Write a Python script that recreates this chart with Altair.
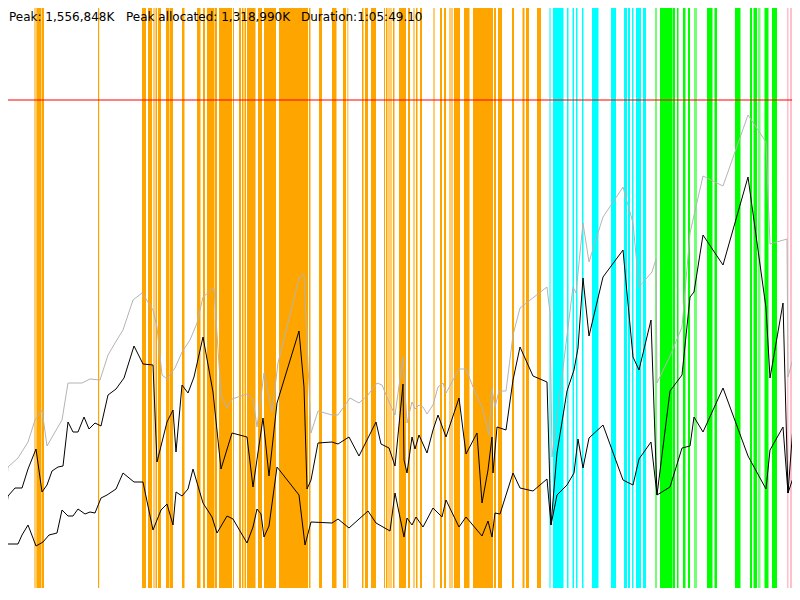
import altair as alt
import pandas as pd

# ---- summary texts ----
summary = ["Peak: 1,556,848K", "Peak allocated: 1,318,990K", "Duration:1:05:49.10"]

# ---- heap limit (red line) ----
heap_limit = 500

# ---- GC event bands: (start, end, kind, shade) ----
bands = [
    (0, 2, "young", "solid"), (6, 7.5, "young", "solid"),
    (34, 36.5, "young", "light"), (36.5, 41, "young", "solid"), (41.5, 44, "young", "solid"),
    (98, 99.2, "young", "solid"),
    (142, 146, "young", "solid"), (148, 152, "young", "solid"), (153, 155, "young", "light"),
    (155.5, 157, "young", "solid"), (158, 161, "young", "solid"),
    (166, 169.5, "young", "solid"), (170, 173, "young", "solid"),
    (182, 184.5, "young", "solid"), (197, 200.5, "young", "solid"), (203, 205, "young", "solid"),
    (207, 214.5, "young", "solid"), (215, 217, "young", "solid"), (219, 232, "young", "solid"),
    (233, 234, "young", "solid"), (239, 241, "young", "solid"), (242, 243.5, "young", "solid"),
    (244.5, 246, "young", "solid"), (247, 255.5, "young", "solid"), (258, 262, "young", "solid"),
    (264, 276, "young", "solid"), (279, 300, "young", "solid"), (300, 308, "young", "solid"),
    (309, 310.5, "young", "solid"), (319, 322, "young", "solid"), (332, 336.5, "young", "solid"),
    (343, 346, "young", "solid"), (347, 348.5, "young", "light"), (362, 363.5, "young", "solid"),
    (365, 368, "young", "solid"), (371, 376, "young", "solid"), (384, 385, "young", "solid"),
    (386, 387.5, "young", "solid"), (388, 392, "young", "light"), (393, 394.5, "young", "solid"),
    (399, 406, "young", "solid"), (408, 410, "young", "solid"), (413, 415, "young", "light"),
    (416, 417.5, "young", "solid"), (420, 422, "young", "solid"), (433, 435, "young", "light"),
    (440, 442, "young", "solid"), (444, 446, "young", "solid"), (449, 453, "young", "light"),
    (454, 456, "young", "solid"), (456, 460, "young", "solid"), (464, 469.5, "young", "solid"),
    (473, 480, "young", "solid"), (480, 487, "young", "solid"), (487, 493, "young", "solid"),
    (494, 496, "young", "solid"), (498, 502, "young", "solid"), (512, 514, "young", "solid"),
    (522.5, 524.5, "young", "solid"), (526, 529, "young", "solid"), (537, 541, "young", "solid"),
    (549, 551, "concurrent", "light"), (553, 563.5, "concurrent", "solid"),
    (567, 568.5, "concurrent", "solid"), (572.5, 574, "concurrent", "solid"),
    (576, 577.5, "concurrent", "solid"), (582, 583.5, "concurrent", "solid"),
    (592, 598.5, "concurrent", "solid"), (611, 616, "concurrent", "solid"),
    (624, 627, "concurrent", "solid"), (628, 630, "concurrent", "solid"),
    (632, 633.5, "concurrent", "solid"), (636, 641, "concurrent", "solid"),
    (643, 646, "concurrent", "solid"),
    (655, 657, "mixed", "light"), (660, 672, "mixed", "solid"), (672.5, 675, "mixed", "solid"),
    (677, 678.5, "mixed", "solid"), (683, 685.5, "mixed", "solid"), (688, 690, "mixed", "solid"),
    (694, 697, "mixed", "light"), (707, 712.5, "mixed", "solid"), (714.5, 717, "mixed", "solid"),
    (735, 740.5, "mixed", "solid"), (750, 752, "mixed", "solid"), (753.5, 757, "mixed", "solid"),
    (758, 760.5, "mixed", "light"), (764.5, 768.5, "mixed", "solid"), (772, 777, "mixed", "solid"),
    (787, 788.5, "other", "solid"), (790, 792.5, "other", "solid"),
    (794, 795.5, "other", "solid"), (798, 800, "other", "solid"),
]
band_kinds = ["young", "concurrent", "mixed", "other"]
band_colors = ["#FFA500", "#00FFFF", "#00FF00", "#FFC0CB"]

# ---- memory series: (time, level) ----
peak_series = [
    (1, 52), (8, 133), (18, 142), (28, 158), (35, 180), (42, 190), (47, 154), (55, 168),
    (62, 180), (68, 217), (82, 217), (90, 221), (100, 220), (108, 245), (115, 257), (123, 270),
    (133, 300), (142, 307), (148, 298), (153, 290), (157, 273), (162, 225), (167, 221),
    (175, 232), (182, 248), (190, 260), (197, 277), (203, 303), (214, 312), (221, 205),
    (227, 192), (232, 201), (247, 206), (253, 201), (257, 173), (264, 227), (272, 188),
    (278, 237), (299, 322), (304, 326), (311, 167), (318, 189), (332, 185), (338, 185),
    (350, 202), (359, 197), (368, 205), (377, 217), (382, 215), (389, 198), (395, 185),
    (403, 243), (407, 177), (412, 198), (415, 191), (419, 195), (423, 193), (427, 186),
    (433, 195), (438, 213), (443, 217), (446, 207), (452, 218), (459, 231), (466, 231),
    (475, 208), (482, 193), (489, 165), (492, 211), (495, 193), (499, 209), (506, 209),
    (513, 265), (520, 292), (534, 303), (547, 313), (550, 287), (552, 143), (573, 313),
    (576, 307), (583, 377), (589, 338), (603, 383), (623, 413), (633, 377), (639, 313),
    (652, 328), (656, 341), (657, 217), (670, 244), (682, 273), (690, 367), (703, 424),
    (723, 414), (748, 485), (766, 458), (770, 356), (787, 361), (788, 223), (796, 253),
]
allocated_series = [
    (1, 45), (8, 104), (15, 112), (22, 112), (28, 131), (36, 151), (42, 108), (47, 115),
    (52, 129), (58, 133), (63, 134), (68, 178), (73, 168), (78, 168), (84, 183), (89, 171),
    (95, 177), (101, 174), (108, 205), (116, 211), (124, 222), (134, 254), (143, 236),
    (153, 235), (157, 138), (167, 178), (173, 190), (176, 148), (182, 215), (188, 207),
    (194, 223), (203, 263), (213, 208), (221, 131), (232, 167), (247, 163), (253, 113),
    (263, 182), (269, 124), (277, 197), (299, 269), (304, 213), (307, 111), (311, 120),
    (318, 157), (332, 158), (338, 156), (349, 163), (359, 144), (376, 178), (381, 156),
    (389, 152), (395, 134), (403, 216), (404, 140), (407, 127), (412, 163), (415, 151),
    (419, 165), (427, 147), (433, 170), (438, 185), (446, 163), (459, 202), (466, 146),
    (477, 167), (482, 97), (488, 130), (492, 163), (493, 127), (497, 173), (506, 170),
    (513, 220), (520, 253), (533, 224), (547, 218), (551, 75), (557, 147), (567, 209),
    (574, 230), (578, 252), (583, 322), (589, 264), (603, 323), (623, 350), (633, 243),
    (639, 230), (651, 280), (657, 105), (670, 209), (682, 225), (690, 303), (694, 308),
    (703, 365), (723, 335), (748, 423), (766, 292), (770, 222), (783, 297), (788, 107),
    (796, 214),
]
live_series = [
    (1, 41), (7, 56), (18, 56), (22, 65), (28, 75), (36, 54), (43, 58), (49, 65), (57, 67),
    (62, 90), (68, 84), (73, 84), (78, 91), (85, 86), (90, 88), (95, 87), (101, 102),
    (107, 105), (116, 111), (123, 127), (134, 118), (143, 118), (153, 70), (161, 90),
    (167, 96), (173, 75), (176, 108), (182, 104), (188, 111), (193, 131), (203, 97),
    (212, 83), (217, 67), (227, 84), (233, 81), (247, 57), (253, 73), (257, 91), (261, 86),
    (264, 63), (269, 74), (277, 133), (299, 105), (305, 55), (311, 78), (332, 77), (338, 81),
    (349, 72), (368, 89), (376, 77), (390, 69), (395, 107), (404, 63), (407, 82), (412, 75),
    (416, 83), (423, 73), (433, 92), (442, 83), (446, 100), (459, 73), (466, 83), (482, 64),
    (488, 79), (492, 63), (495, 87), (500, 86), (513, 127), (520, 112), (533, 109),
    (547, 121), (551, 75), (557, 105), (567, 115), (574, 127), (578, 161), (583, 132),
    (589, 162), (603, 175), (623, 120), (633, 115), (639, 141), (651, 158), (657, 105),
    (670, 113), (682, 152), (690, 154), (694, 183), (703, 168), (723, 212), (748, 144),
    (766, 111), (770, 150), (783, 173), (788, 107), (796, 131),
]

# the page has an 8px margin: show the window of the timeline that lands inside it
x_scale = alt.Scale(domain=[8, 792], nice=False, zero=False)
y_scale = alt.Scale(domain=[12, 592], nice=False, zero=False)

df_bands = pd.DataFrame(bands, columns=["start", "end", "kind", "shade"])
band_layer = alt.Chart(df_bands).mark_rect(clip=True).encode(
    x=alt.X("start:Q", scale=x_scale, axis=None),
    x2="end:Q",
    color=alt.Color("kind:N", scale=alt.Scale(domain=band_kinds, range=band_colors), legend=None),
    opacity=alt.Opacity("shade:N", scale=alt.Scale(domain=["solid", "light"], range=[1.0, 0.55]), legend=None),
)

limit_layer = alt.Chart(pd.DataFrame({"limit": [heap_limit]})).mark_rule(
    color="#ff0000", opacity=0.5, strokeWidth=2
).encode(y=alt.Y("limit:Q", scale=y_scale, axis=None))


def series_layer(pairs, color):
    df = pd.DataFrame(pairs, columns=["t", "mem"])
    return alt.Chart(df).mark_line(color=color, strokeWidth=1, clip=True).encode(
        x=alt.X("t:Q", scale=x_scale, axis=None),
        y=alt.Y("mem:Q", scale=y_scale, axis=None),
    )


peak_layer = series_layer(peak_series, "#b4b4b4")
alloc_layer = series_layer(allocated_series, "#000000")
live_layer = series_layer(live_series, "#000000")

text_x = [1, 118, 293]
text_layers = []
for label, tx in zip(summary, text_x):
    text_layers.append(
        alt.Chart(pd.DataFrame({"label": [label]})).mark_text(
            align="left", baseline="alphabetic", font="DejaVu Sans", fontSize=12, color="#000000"
        ).encode(x=alt.value(tx), y=alt.value(13), text="label:N")
    )

chart = alt.layer(
    band_layer, limit_layer, peak_layer, alloc_layer, live_layer, *text_layers
).properties(
    width=784, height=580, padding=0, autosize="none", background="white"
).configure_view(stroke="transparent")

chart.save("out.html", embed_options={"renderer": "svg", "actions": False})
